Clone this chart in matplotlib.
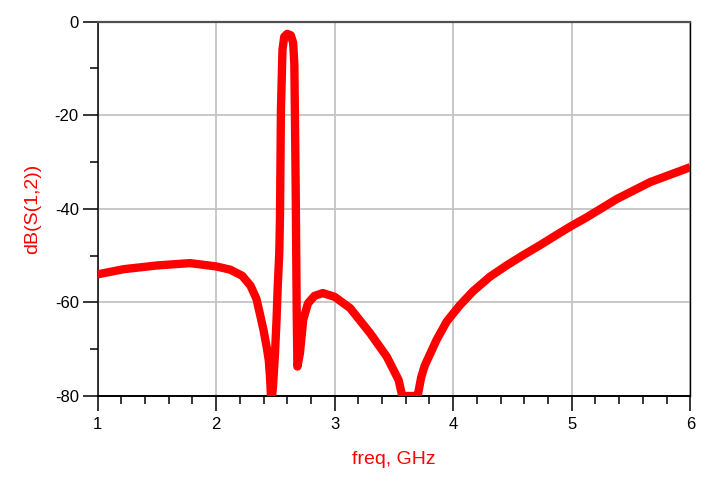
import matplotlib
matplotlib.use("Agg")
import matplotlib.pyplot as plt
from matplotlib.ticker import MultipleLocator

plt.rcParams['font.family'] = ['Liberation Sans', 'DejaVu Sans']
plt.rcParams['axes.unicode_minus'] = False

# S(1,2) in dB (clipped at -80 like the original)
freq_ghz = [1.0, 1.22, 1.5, 1.78, 2.0, 2.12, 2.22, 2.29, 2.34, 2.37, 2.40,
            2.43, 2.445, 2.455, 2.463, 2.472, 2.48, 2.497, 2.51, 2.52,
            2.533, 2.539, 2.547, 2.56, 2.575, 2.60, 2.63, 2.65, 2.66,
            2.665, 2.672, 2.68, 2.686, 2.695, 2.707, 2.735, 2.775, 2.83,
            2.90, 3.0, 3.13, 3.3, 3.44, 3.54, 3.57, 3.62, 3.66, 3.70,
            3.73, 3.76, 3.86, 3.945, 4.056, 4.168, 4.31, 4.45, 4.59,
            4.73, 4.87, 5.0, 5.12, 5.38, 5.66, 6.0]
s12_db = [-54.0, -52.9, -52.1, -51.6, -52.3, -53.0, -54.3, -56.4, -59.2,
          -62.5, -65.9, -70.0, -72.5, -76.0, -80.0, -80.0, -78.0, -70.9,
          -63.7, -56.6, -49.5, -41.7, -18.9, -6.0, -3.2, -2.6, -2.9,
          -4.5, -9.0, -20.0, -37.0, -62.0, -73.7, -72.5, -70.9, -63.7,
          -60.2, -58.6, -58.0, -58.8, -61.2, -66.6, -71.6, -76.6, -80.0,
          -80.0, -80.0, -80.0, -76.0, -73.5, -68.0, -64.1, -60.6, -57.6,
          -54.5, -52.1, -49.9, -47.8, -45.6, -43.6, -41.9, -37.9, -34.3,
          -31.1]

x_ticks = [1, 2, 3, 4, 5, 6]
y_ticks = [-80, -60, -40, -20, 0]

red = "#ff0000"

fig = plt.figure(figsize=(7.14, 4.82), dpi=100)
ax = fig.add_axes([0.1366, 0.1784, 0.8302, 0.7766])

ax.plot(freq_ghz, s12_db, color=red, linewidth=6,
        solid_joinstyle='round', solid_capstyle='butt', zorder=3)

ax.set_xlim(1, 6)
ax.set_ylim(-80, 0)
ax.set_xticks(x_ticks)
ax.set_yticks(y_ticks)
ax.xaxis.set_minor_locator(MultipleLocator(0.2))
ax.yaxis.set_minor_locator(MultipleLocator(10))

ax.grid(True, which='major', color='#c4c4c4', linewidth=1.3, zorder=0)
ax.set_axisbelow(True)

ax.tick_params(axis='both', which='major', direction='out', length=11,
               width=1.1, color='black', labelsize=12)
ax.tick_params(axis='both', which='minor', direction='out', length=6,
               width=1.1, color='black')
ax.tick_params(axis='x', which='major', pad=4)
ax.tick_params(axis='y', which='major', pad=2.5)

ax.spines['top'].set_color('#505050')
ax.spines['top'].set_linewidth(1.6)
ax.spines['bottom'].set_linewidth(1.4)
ax.spines['left'].set_linewidth(1.1)
ax.spines['right'].set_linewidth(1.0)

ax.set_xlabel("freq, GHz", color=red, fontsize=14, labelpad=14)
ax.set_ylabel("dB(S(1,2))", color=red, fontsize=14, labelpad=10)

fig.savefig("out.png", dpi=100)
